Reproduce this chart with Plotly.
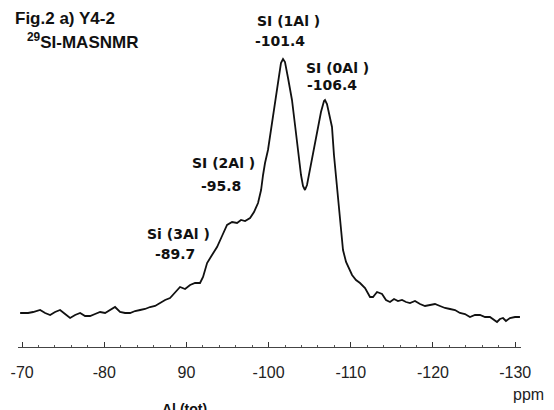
import plotly.graph_objects as go

# --- data (chemical shift in ppm, intensity in a.u.) ---
ppm = [-69.76, -70.73, -71.34, -72.19, -72.80, -73.41, -74.01, -74.62, -75.23, -75.84,
       -76.45, -77.06, -77.66, -78.27, -78.88, -79.49, -80.10, -80.71, -81.31, -81.92,
       -82.53, -83.14, -83.75, -84.36, -84.96, -85.57, -86.18, -86.79, -87.40, -88.00,
       -88.61, -89.22, -89.83, -90.44, -91.05, -91.65, -92.02, -92.51, -93.11, -93.72,
       -94.33, -94.94, -95.55, -96.16, -96.64, -97.13, -97.74, -98.22, -98.71, -99.08,
       -99.32, -99.56, -99.92, -100.41, -100.90, -101.26, -101.50, -101.75, -101.99, -102.36,
       -102.84, -103.21, -103.57, -103.94, -104.18, -104.42, -104.67, -105.03, -105.40, -105.88,
       -106.37, -106.74, -106.86, -107.10, -107.47, -107.71, -107.95, -108.20, -108.44, -108.81,
       -109.05, -109.42, -109.78, -110.15, -110.63, -111.12, -111.73, -112.34, -112.70, -113.19,
       -113.80, -114.28, -114.77, -115.26, -115.74, -116.23, -116.72, -117.20, -117.81, -118.42,
       -119.03, -119.64, -120.24, -120.85, -121.46, -122.07, -122.68, -123.28, -123.89, -124.50,
       -125.11, -125.72, -126.33, -126.93, -127.54, -127.79, -128.15, -128.52, -128.88, -129.37,
       -129.98, -130.58]
intensity = [32, 32, 33, 35, 32, 30, 33, 35, 31, 27,
             30, 32, 29, 29, 31, 33, 32, 35, 38, 33,
             32, 32, 34, 35, 36, 38, 39, 42, 45, 47,
             53, 58, 56, 60, 62, 62, 68, 82, 90, 98,
             109, 120, 123, 122, 125, 124, 127, 133, 142, 155,
             170, 182, 195, 223, 250, 270, 282, 286, 283, 267,
             245, 220, 193, 170, 159, 155, 160, 175, 190, 212,
             233, 244, 245, 241, 227, 218, 190, 170, 145, 117,
             95, 83, 77, 70, 65, 62, 57, 48, 48, 53,
             51, 45, 43, 46, 44, 45, 43, 42, 44, 41,
             39, 40, 41, 39, 37, 36, 35, 32, 31, 28,
             30, 30, 28, 28, 24, 23, 26, 27, 24, 27,
             28, 28]

tick_values = [-70, -80, -90, -100, -110, -120, -130]
tick_labels = ["-70", "-80", "90", "-100", "-110", "-120", "-130"]

peak_names = ["SI (1Al )", "SI (0Al )", "SI (2Al )", "Si (3Al )"]
peak_shifts = ["-101.4", "-106.4", "-95.8", "-89.7"]

title_line1 = "Fig.2 a) Y4-2"
title_line2 = "<sup>29</sup>SI-MASNMR"
x_unit = "ppm"
bottom_text = "Al (tot)"

# --- figure ---
fig = go.Figure()
fig.add_trace(go.Scatter(x=ppm, y=intensity, mode="lines",
                         line=dict(color="#111111", width=1.8),
                         hoverinfo="skip", showlegend=False))

# label positions (x in ppm, y in a.u.) for name line and shift line
name_pos = [(-102.36, 324), (-108.44, 277), (-94.45, 182), (-88.97, 111)]
shift_pos = [(-101.38, 304), (-107.71, 260), (-94.20, 159), (-88.61, 91)]

lab_font = dict(family="DejaVu Sans", size=14, color="#111111")
for name, shift, (nx, ny), (sx, sy) in zip(peak_names, peak_shifts, name_pos, shift_pos):
    fig.add_annotation(x=nx, y=ny, text="<b>%s</b>" % name, showarrow=False,
                       xanchor="center", yanchor="middle", font=lab_font)
    fig.add_annotation(x=sx, y=sy, text="<b>%s</b>" % shift, showarrow=False,
                       xanchor="center", yanchor="middle", font=lab_font)

title_font = dict(family="Liberation Sans", size=17, color="#111111")
fig.add_annotation(xref="paper", yref="paper", x=-0.0099, y=0.948,
                   text="<b>%s</b>" % title_line1, showarrow=False,
                   xanchor="left", yanchor="middle", font=title_font)
fig.add_annotation(xref="paper", yref="paper", x=0.0139, y=0.882,
                   text="<b>%s</b>" % title_line2, showarrow=False,
                   xanchor="left", yanchor="middle", font=title_font)

fig.add_annotation(xref="paper", yref="paper", x=1.014, y=-0.138, text=x_unit,
                   showarrow=False, xanchor="center", yanchor="middle",
                   font=dict(family="Liberation Sans", size=16, color="#222222"))
fig.add_annotation(xref="paper", yref="paper", x=0.2823, y=-0.178,
                   text="<b>%s</b>" % bottom_text, showarrow=False,
                   xanchor="left", yanchor="middle",
                   font=dict(family="Liberation Sans", size=14, color="#111111"))

fig.update_layout(
    width=554, height=410, autosize=False,
    margin=dict(l=18, r=33, t=0, b=63),
    paper_bgcolor="white", plot_bgcolor="white",
    xaxis=dict(range=[-69.50, -130.71], tickmode="array",
               tickvals=tick_values, ticktext=tick_labels,
               showgrid=False, zeroline=False,
               showline=True, linecolor="#444444", linewidth=1,
               ticks="inside", ticklen=5, tickcolor="#333333",
               ticklabelstandoff=11,
               minor=dict(ticks="inside", ticklen=2, dtick=2, tickcolor="#555555"),
               tickfont=dict(family="Liberation Sans", size=16, color="#222222")),
    yaxis=dict(range=[-2, 345], visible=False),
)

fig.write_html("out.html")
